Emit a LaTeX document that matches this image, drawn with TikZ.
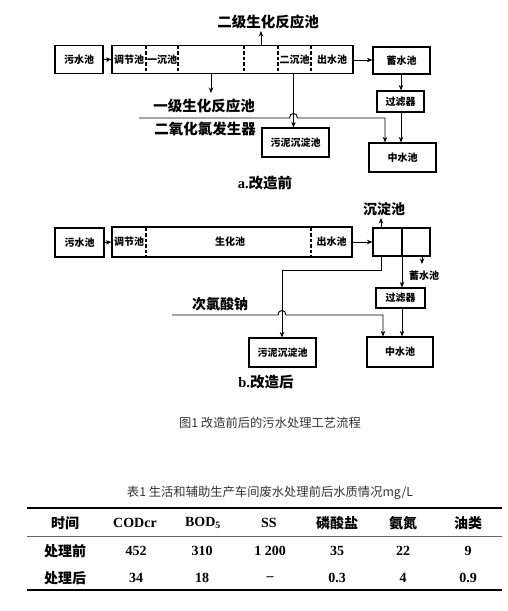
\documentclass[tikz,border=0pt]{standalone}
\usepackage{fontspec}
\setmainfont{Liberation Serif}
\newfontfamily\cjk{Noto Sans CJK SC}
\usetikzlibrary{arrows.meta}
\newcommand\boxfont{\cjk\bfseries\fontsize{10}{12}\selectfont}
\newcommand\lblfont{\cjk\bfseries\fontsize{14.5}{16}\selectfont}
\newcommand\capfont{\cjk\fontsize{12.3}{14}\selectfont}
\newcommand\tabfont{\bfseries\fontsize{14}{16}\selectfont}
\newcommand\tabcjk{\cjk\bfseries\fontsize{14}{16}\selectfont}
\tikzset{
  box/.style={draw, line width=1.2pt, inner sep=0pt, font=\boxfont},
  inlbl/.style={inner sep=0pt, font=\boxfont},
  arr/.style={line width=0.9pt, -{Stealth[length=5.5pt,width=4.5pt]}},
  ln/.style={line width=0.9pt},
  divl/.style={line width=1.1pt, dash pattern=on 3.5pt off 2pt},
  lbl/.style={inner sep=0pt, font=\lblfont},
  capt/.style={inner sep=0pt, font=\capfont, text=black!80},
  tc/.style={inner sep=0pt, font=\tabfont},
  tz/.style={inner sep=0pt, font=\tabcjk},
}
\begin{document}
\begin{tikzpicture}[x=1pt,y=-1pt]
\fill[white] (0,0) rectangle (508,611);
\useasboundingbox (0,0) rectangle (508,611);

% ===== a. before =====
\node[box, minimum width=48pt, minimum height=28pt] (wsA) at (79,59.5) {污水池};
\node[box, minimum width=241pt, minimum height=28pt] (mainA) at (232.5,59.5) {};
\foreach \x in {146,178,244,278,311}
  \draw[divl] (\x,45.5) -- (\x,73.5);
\node[inlbl] (tjA) at (129,60) {调节池};
\node[inlbl] (ycA) at (162,60) {一沉池};
\node[inlbl] (ecA) at (294.5,60) {二沉池};
\node[inlbl] (csA) at (332,60) {出水池};
\draw[arr] (wsA.east) -- (mainA.west);

\node[lbl] (l2A) at (268,22) {二级生化反应池};
\draw[arr] (261,0 |- mainA.north) -- (261,31);
\node[lbl] (l1A) at (204,106) {一级生化反应池};
\draw[arr] (211,0 |- mainA.south) -- (211,93);
\node[lbl] (clA) at (205,129) {二氧化氯发生器};

\node[box, minimum width=57pt, minimum height=27pt] (xsA) at (401.5,60.5) {蓄水池};
\node[box, minimum width=47pt, minimum height=21pt] (glA) at (400.5,101.5) {过滤器};
\node[box, minimum width=67pt, minimum height=29pt] (zsA) at (402.5,157.5) {中水池};
\node[box, minimum width=67pt, minimum height=29pt] (wnA) at (295.5,142.5) {污泥沉淀池};

\draw[arr] (mainA.east |- 0,60) -- (xsA.west |- 0,60);
\draw[arr] (401,0 |- xsA.south) -- (401,0 |- glA.north);
\draw[arr] (401,0 |- glA.south) -- (401,0 |- zsA.north);
\draw[arr] (293.5,0 |- mainA.south) -- (293.5,0 |- wnA.north);
\coordinate (cstartA) at (139,118);
\draw[arr] (cstartA) -- (289.5,118) .. controls (289.5,112) and (297.5,112) .. (297.5,118)
  -- (385,118) -- (385,0 |- zsA.north);

\node[inner sep=0pt, font=\bfseries\fontsize{14.5}{16}\selectfont] (capA) at (265,183) {a.{\cjk 改造前}};

% ===== b. after =====
\node[box, minimum width=49pt, minimum height=29pt] (wsB) at (79.5,242.5) {污水池};
\node[box, minimum width=240pt, minimum height=30pt] (mainB) at (232,242) {};
\foreach \x in {146,311}
  \draw[divl] (\x,227.5) -- (\x,256.5);
\node[inlbl] (tjB) at (129,242) {调节池};
\node[inlbl] (shB) at (230,242) {生化池};
\node[inlbl] (csB) at (331.5,242) {出水池};
\draw[arr] (wsB.east) -- (mainB.west);

\node[box, minimum width=57pt, minimum height=28pt] (cdB) at (401.5,242) {};
\draw[line width=1.2pt] (402,228) -- (402,256);
\draw[arr] (mainB.east |- 0,242) -- (cdB.west |- 0,242);
\node[lbl, font=\cjk\bfseries\fontsize{14}{16}\selectfont] (lcdB) at (384,209) {沉淀池};
\draw[arr] (381,0 |- cdB.north) -- (381,218);
\draw[arr] (422,0 |- cdB.south) -- (422,264);
\node[inlbl] (lxsB) at (424,276) {蓄水池};

\node[box, minimum width=49pt, minimum height=20pt] (glB) at (400.5,298) {过滤器};
\node[box, minimum width=66pt, minimum height=30pt] (zsB) at (400,352) {中水池};
\node[box, minimum width=67pt, minimum height=29pt] (wnB) at (282.5,352.5) {污泥沉淀池};

\draw[arr] (402,0 |- cdB.south) -- (402,0 |- glB.north);
\draw[arr] (402,0 |- glB.south) -- (402,0 |- zsB.north);
\draw[arr] (381,0 |- cdB.south) -- (381,270) -- (282,270) -- (282,0 |- wnB.north);

\node[lbl, font=\cjk\bfseries\fontsize{14}{16}\selectfont] (lnaB) at (220,304) {次氯酸钠};
\coordinate (cstartB) at (172,315);
\draw[arr] (cstartB) -- (278,315) .. controls (278,309) and (286,309) .. (286,315)
  -- (383,315) -- (383,0 |- zsB.north);

\node[inner sep=0pt, font=\bfseries\fontsize{14.5}{16}\selectfont] (capB) at (266,382) {b.{\cjk 改造后}};

% ===== captions =====
\node[capt] (fig) at (270,423) {图1 改造前后的污水处理工艺流程};
\node[capt] (tab) at (270,493) {表1 生活和辅助生产车间废水处理前后水质情况mg/L};

% ===== table =====
\draw[line width=1.8pt] (27,508) -- (502,508);
\draw[line width=0.5pt, black!60] (27,536) -- (502,536);
\draw[line width=1.8pt] (27,590) -- (502,590);

\node[tz] (h1) at (65,523) {时间};
\node[tc] (h2) at (135,523) {CODcr};
\node[tc] (h3) at (203,523) {BOD$_\mathbf{5}$};
\node[tc] (h4) at (269,523) {SS};
\node[tz] (h5) at (337,523) {磷酸盐};
\node[tz] (h6) at (403,523) {氨氮};
\node[tz] (h7) at (468,523) {油类};

\node[tz] (r11) at (65,551) {处理前};
\node[tc] (r12) at (136,551) {452};
\node[tc] (r13) at (202,551) {310};
\node[tc] (r14) at (270,551) {1 200};
\node[tc] (r15) at (337,551) {35};
\node[tc] (r16) at (403,551) {22};
\node[tc] (r17) at (468,551) {9};

\node[tz] (r21) at (65,578) {处理后};
\node[tc] (r22) at (136,578) {34};
\node[tc] (r23) at (202,578) {18};
\node[tc] (r24) at (270,578.5) {–};
\node[tc] (r25) at (337,578) {0.3};
\node[tc] (r26) at (403,578) {4};
\node[tc] (r27) at (468,578) {0.9};
\end{tikzpicture}
\end{document}
